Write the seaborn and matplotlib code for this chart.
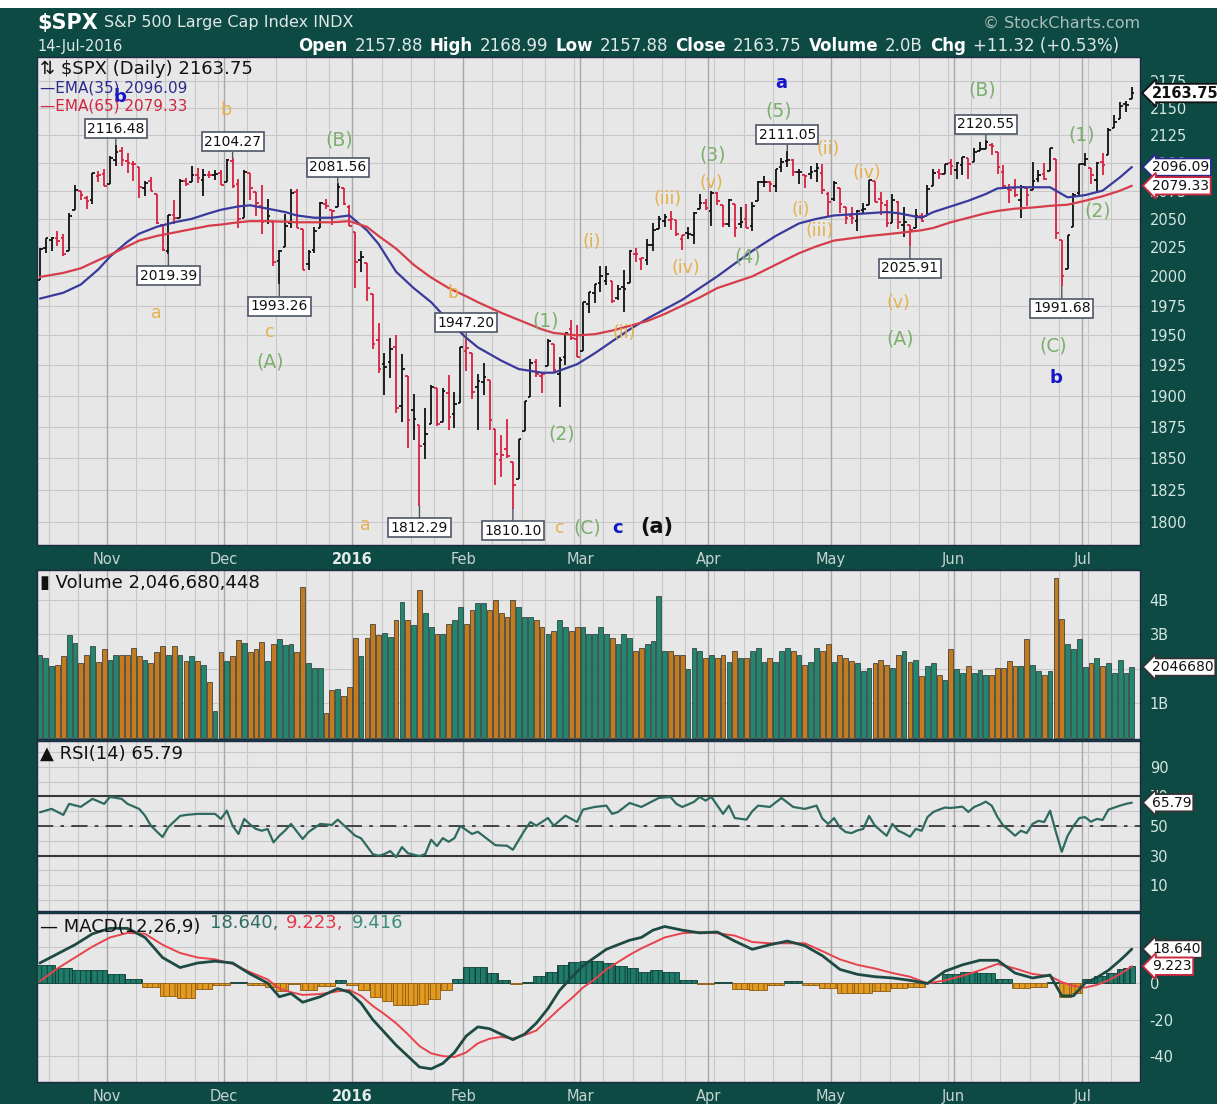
import numpy as np
import pandas as pd
import matplotlib
matplotlib.use("Agg")
import matplotlib.pyplot as plt
from matplotlib.patches import Rectangle
from matplotlib.ticker import FixedLocator, FixedFormatter, NullLocator
import seaborn as sns

# ---------------------------------------------------------------- data
holidays = ["2015-11-26", "2015-12-25", "2016-01-01", "2016-01-18",
            "2016-02-15", "2016-03-25", "2016-05-30", "2016-07-04"]
dates = pd.bdate_range("2015-10-15", "2016-07-14")
dates = dates[~dates.isin(pd.to_datetime(holidays))]

opens = [
    1996.5, 2024.4, 2031.7, 2033.1, 2033.5, 2021.9, 2058.2, 2075.1, 2068.8, 2066.5, 2088.4, 2090.0,
    2080.8, 2102.6, 2110.6, 2101.7, 2098.6, 2096.6, 2077.2, 2083.4, 2072.3, 2044.6, 2022.1, 2053.7, 2051.0, 2083.7, 2082.8, 2089.4, 2084.4, 2089.3, 2088.8, 2090.9,
    2082.9, 2101.7, 2080.7, 2051.2, 2090.4, 2073.4, 2061.2, 2047.9, 2047.3, 2013.4, 2025.6, 2046.5, 2073.8, 2040.8, 2010.3, 2023.2, 2042.2, 2063.5, 2057.8, 2060.5, 2077.3, 2060.6,
    2038.2, 2013.8, 2011.7, 1985.3, 1946.0, 1926.1, 1927.8, 1940.3, 1891.7, 1916.7, 1888.7, 1876.2, 1861.5, 1877.4, 1906.3, 1878.8, 1902.5, 1885.2, 1894.0,
    1936.9, 1935.3, 1907.1, 1911.7, 1913.1, 1873.3, 1848.5, 1857.1, 1847.0, 1833.4, 1871.4, 1898.8, 1927.6, 1916.7, 1924.4, 1942.4, 1917.6, 1931.9, 1955.0, 1947.1,
    1937.1, 1976.6, 1985.6, 1994.0, 1996.1, 1996.0, 1981.4, 1991.0, 1994.7, 2019.3, 2015.3, 2014.2, 2026.9, 2041.2, 2047.9, 2048.6, 2048.6, 2032.5, 2037.9, 2035.8, 2058.3, 2063.8,
    2056.6, 2073.2, 2062.5, 2045.6, 2063.0, 2045.5, 2050.2, 2043.7, 2065.9, 2082.9, 2083.1, 2078.8, 2096.1, 2101.5, 2102.1, 2091.5, 2089.4, 2089.8, 2092.6, 2090.9, 2071.8,
    2067.2, 2077.2, 2060.3, 2052.9, 2047.8, 2057.6, 2062.6, 2083.3, 2067.2, 2062.5, 2046.5, 2065.0, 2044.4, 2044.2, 2041.9, 2052.2, 2052.7, 2078.9, 2091.4, 2090.1, 2100.1,
    2093.9, 2097.7, 2104.1, 2100.8, 2110.2, 2112.7, 2115.7, 2109.6, 2091.8, 2076.7, 2077.6, 2066.4, 2077.2, 2075.6, 2085.2, 2089.8, 2092.8, 2103.8, 2031.5, 2006.7, 2042.7, 2073.2,
    2099.3, 2095.1, 2084.4, 2100.4, 2107.0, 2131.7, 2139.5, 2153.8, 2157.88,
]
highs = [
    2024.2, 2033.5, 2034.5, 2039.1, 2037.0, 2055.2, 2079.7, 2075.1, 2070.4, 2090.4, 2092.5, 2094.3,
    2106.2, 2116.48, 2114.6, 2108.8, 2101.9, 2096.6, 2083.7, 2086.9, 2072.3, 2044.6, 2053.2, 2066.7, 2085.3, 2086.7, 2097.1, 2095.6, 2094.1, 2093.0, 2093.3, 2093.8,
    2103.4, 2104.27, 2085.0, 2093.8, 2090.4, 2073.9, 2080.3, 2067.7, 2047.3, 2022.9, 2053.9, 2076.7, 2076.4, 2040.8, 2022.9, 2042.7, 2064.7, 2067.4, 2057.8, 2081.56, 2077.3, 2062.5,
    2038.2, 2021.9, 2011.7, 1985.3, 1960.4, 1935.7, 1947.4, 1950.3, 1934.5, 1916.7, 1901.4, 1876.2, 1889.9, 1908.9, 1906.3, 1906.7, 1917.0, 1903.0, 1940.2,
    1947.20, 1935.3, 1918.0, 1927.4, 1913.1, 1873.3, 1868.3, 1881.6, 1847.0, 1864.8, 1895.8, 1930.7, 1930.0, 1918.8, 1946.7, 1942.4, 1932.1, 1951.8, 1963.0, 1958.3,
    1978.4, 1986.5, 1993.7, 2009.1, 2008.6, 1996.0, 1992.7, 2005.1, 2022.4, 2024.6, 2015.9, 2032.0, 2046.2, 2052.4, 2053.9, 2056.6, 2048.6, 2036.0, 2042.7, 2055.9, 2072.2, 2067.9,
    2075.1, 2074.0, 2062.5, 2067.3, 2063.0, 2060.6, 2062.9, 2065.1, 2083.2, 2087.8, 2083.2, 2094.7, 2104.1, 2111.05, 2103.8, 2094.3, 2089.4, 2096.9, 2099.9, 2099.1, 2073.9,
    2083.4, 2077.2, 2060.3, 2060.2, 2057.7, 2064.2, 2084.9, 2083.3, 2074.0, 2066.8, 2071.9, 2065.7, 2060.6, 2044.2, 2058.4, 2055.6, 2079.7, 2094.7, 2094.1, 2099.1, 2103.5,
    2101.0, 2105.3, 2104.1, 2113.4, 2119.2, 2120.55, 2117.6, 2109.6, 2098.1, 2081.3, 2085.7, 2079.6, 2077.2, 2100.7, 2093.7, 2099.7, 2113.3, 2103.8, 2031.5, 2036.1, 2073.1, 2098.9,
    2108.7, 2095.1, 2100.7, 2109.1, 2131.7, 2143.2, 2155.4, 2156.5, 2168.99,
]
lows = [
    1996.5, 2020.5, 2022.3, 2026.6, 2017.2, 2021.9, 2058.2, 2066.5, 2058.8, 2063.1, 2082.6, 2079.3,
    2080.8, 2097.5, 2097.0, 2090.4, 2083.7, 2068.2, 2069.9, 2074.9, 2045.7, 2022.0, 2019.39, 2045.9, 2051.0, 2078.8, 2082.8, 2081.4, 2070.3, 2086.3, 2084.1, 2080.4,
    2082.9, 2077.1, 2042.4, 2051.2, 2066.8, 2052.3, 2036.5, 2045.7, 2008.8, 1993.26, 2025.6, 2042.4, 2041.7, 2005.3, 2005.9, 2020.5, 2042.2, 2058.7, 2044.2, 2060.5, 2062.0, 2043.6,
    1989.7, 2004.2, 1979.1, 1938.8, 1918.5, 1901.1, 1914.4, 1886.3, 1878.9, 1857.8, 1864.6, 1812.29, 1849.0, 1877.4, 1876.0, 1878.8, 1872.7, 1873.7, 1894.0,
    1920.0, 1897.3, 1872.7, 1900.5, 1872.7, 1828.5, 1834.9, 1850.3, 1810.10, 1833.4, 1871.4, 1898.8, 1915.1, 1902.2, 1924.4, 1919.4, 1891.0, 1925.4, 1945.8, 1931.8,
    1937.1, 1968.9, 1977.4, 1986.8, 1992.4, 1977.4, 1979.8, 1969.3, 1994.7, 2012.2, 2005.2, 2010.0, 2022.2, 2041.2, 2043.1, 2040.6, 2034.9, 2022.5, 2032.0, 2028.3, 2058.3, 2057.5,
    2044.0, 2062.6, 2042.6, 2043.1, 2033.8, 2041.7, 2041.9, 2039.7, 2065.9, 2078.1, 2073.7, 2073.7, 2091.7, 2096.3, 2088.5, 2081.2, 2077.5, 2085.8, 2082.3, 2071.6, 2052.3,
    2066.1, 2054.9, 2045.6, 2045.8, 2039.5, 2054.3, 2062.6, 2064.5, 2053.1, 2043.1, 2046.5, 2040.8, 2034.5, 2025.91, 2041.9, 2047.3, 2052.7, 2078.9, 2085.3, 2090.1, 2088.7,
    2085.1, 2088.6, 2085.4, 2100.8, 2110.2, 2112.7, 2107.0, 2090.0, 2078.5, 2064.1, 2069.7, 2050.4, 2061.0, 2075.6, 2083.0, 2084.4, 2092.8, 2032.6, 1991.68, 2006.7, 2042.7, 2070.0,
    2097.5, 2080.9, 2074.0, 2089.4, 2107.0, 2131.7, 2139.5, 2146.2, 2157.88,
]
closes = [
    2023.86, 2033.11, 2033.66, 2030.77, 2018.94, 2052.51, 2075.15, 2071.18, 2065.89, 2090.35, 2089.41, 2079.36,
    2104.05, 2109.79, 2102.31, 2099.93, 2099.20, 2078.58, 2081.72, 2075.00, 2045.97, 2023.04, 2053.19, 2050.44, 2083.58, 2081.24, 2089.17, 2086.59, 2089.14, 2088.87, 2090.11, 2080.41,
    2102.63, 2079.51, 2049.62, 2091.69, 2077.07, 2063.59, 2047.62, 2052.23, 2012.37, 2021.94, 2043.41, 2073.07, 2041.89, 2005.55, 2021.15, 2038.97, 2064.29, 2060.99, 2056.50, 2078.36, 2063.36, 2043.94,
    2012.66, 2016.71, 1990.26, 1943.09, 1922.03, 1923.67, 1938.68, 1890.28, 1921.84, 1880.33, 1881.33, 1859.33, 1868.99, 1906.90, 1877.08, 1903.63, 1882.95, 1893.36, 1940.24,
    1939.38, 1903.03, 1912.53, 1915.45, 1880.05, 1853.44, 1852.21, 1851.86, 1829.08, 1864.78, 1895.58, 1926.82, 1917.83, 1917.78, 1945.50, 1921.27, 1929.80, 1951.70, 1948.05, 1932.23,
    1978.35, 1986.45, 1993.40, 1999.99, 2001.76, 1979.26, 1989.26, 1989.57, 2022.19, 2019.64, 2015.93, 2027.22, 2040.59, 2049.58, 2051.60, 2049.80, 2036.71, 2035.94, 2037.05, 2055.01, 2063.95, 2059.74,
    2072.78, 2066.13, 2045.17, 2066.66, 2041.91, 2047.60, 2041.99, 2061.72, 2082.42, 2082.78, 2080.73, 2094.34, 2100.80, 2102.40, 2091.48, 2091.58, 2087.79, 2091.70, 2095.15, 2075.81, 2065.30,
    2081.43, 2063.37, 2051.12, 2050.63, 2057.14, 2058.69, 2084.39, 2064.46, 2064.11, 2046.61, 2066.66, 2047.21, 2047.63, 2040.04, 2052.32, 2048.04, 2076.06, 2090.54, 2090.10, 2099.06, 2096.95,
    2099.33, 2105.26, 2099.13, 2109.41, 2112.13, 2119.12, 2115.48, 2096.07, 2079.06, 2075.32, 2071.50, 2077.99, 2071.22, 2083.25, 2088.90, 2085.45, 2113.32, 2037.41, 2000.54, 2036.09, 2070.77, 2098.86,
    2102.95, 2088.55, 2099.73, 2097.90, 2129.90, 2137.16, 2152.14, 2152.43, 2163.75,
]
# daily volume, billions of shares
volume_b = [
    2.41, 2.32, 2.07, 2.12, 2.36, 2.97, 2.73, 2.17, 2.41, 2.65, 2.20, 2.57,
    2.26, 2.41, 2.41, 2.41, 2.61, 2.36, 2.26, 2.15, 2.47, 2.66, 2.41, 2.66, 2.41, 2.22, 2.36, 2.22, 2.10, 1.61, 0.77, 2.47,
    2.22, 2.36, 2.82, 2.73, 2.47, 2.56, 2.77, 2.22, 2.71, 2.87, 2.68, 2.71, 2.47, 4.37, 2.15, 2.02, 2.02, 0.72, 1.38, 1.42, 1.21, 1.47,
    2.88, 2.36, 2.88, 3.28, 2.97, 3.02, 2.92, 3.42, 3.92, 3.42, 3.26, 4.28, 3.60, 3.20, 3.00, 3.00, 3.30, 3.40, 3.80,
    3.30, 3.70, 3.90, 3.90, 3.70, 4.00, 3.60, 3.50, 4.00, 3.80, 3.50, 3.50, 3.40, 3.20, 3.00, 3.10, 3.40, 3.20, 3.10, 3.20,
    3.20, 3.00, 3.00, 3.20, 3.00, 2.90, 2.70, 3.00, 2.90, 2.50, 2.60, 2.70, 2.80, 4.10, 2.50, 2.50, 2.40, 2.40, 2.00, 2.60, 2.50, 2.30,
    2.40, 2.30, 2.40, 2.20, 2.50, 2.30, 2.30, 2.50, 2.60, 2.20, 2.30, 2.20, 2.50, 2.60, 2.50, 2.40, 2.10, 2.20, 2.60, 2.50, 2.70,
    2.20, 2.40, 2.30, 2.22, 2.15, 1.93, 2.02, 2.17, 2.26, 2.12, 2.02, 2.41, 2.51, 2.20, 2.26, 1.78, 2.09, 2.17, 1.81, 1.67, 2.57,
    1.98, 1.86, 2.07, 1.86, 1.96, 1.81, 1.81, 2.03, 2.03, 2.22, 2.07, 2.09, 2.87, 2.12, 1.93, 1.81, 1.93, 4.62, 3.43, 2.70, 2.57, 2.87,
    2.04, 2.17, 2.32, 2.07, 2.17, 1.86, 2.26, 1.86, 2.0467,
]

# moving averages (trading-day index, value)
ema_day = [0, 4, 7, 10, 12, 15, 17, 20, 23, 26, 29, 31, 34, 36, 39, 42, 44, 47, 50, 53,
           56, 58, 61, 64, 67, 70, 73, 75, 79, 82, 86, 88, 92, 95, 98, 101, 104, 107, 110, 113,
           116, 119, 122, 126, 130, 133, 136, 139, 142, 145, 147, 151, 153, 156, 159, 162, 164, 167, 170, 173,
           176, 179, 182, 185, 187]
ema35 = [1981, 1986, 1993, 2006, 2017, 2030, 2037, 2043, 2047, 2050, 2055, 2058, 2061, 2062, 2059, 2056, 2053, 2051, 2051, 2053,
         2040, 2028, 2004, 1990, 1978, 1962, 1948, 1940, 1929, 1922, 1919, 1919, 1926, 1935, 1945, 1955, 1964, 1972, 1980, 1990,
         2000, 2011, 2022, 2035, 2046, 2050, 2053, 2054, 2055, 2056, 2055, 2051, 2056, 2061, 2066, 2072, 2077, 2078, 2078, 2078,
         2069, 2071, 2075, 2087, 2096.09]
ema65 = [1999.5, 2003, 2007, 2014, 2018.5, 2026, 2031, 2035, 2038, 2041, 2044, 2045, 2047, 2048, 2048, 2047.5, 2047, 2047, 2047, 2048,
         2043, 2035, 2024, 2010, 1999, 1990, 1983, 1978, 1969, 1963, 1955, 1952, 1950, 1951, 1954, 1958, 1962, 1968, 1975, 1982,
         1990, 1995, 2000, 2010, 2020, 2026, 2031, 2033, 2035, 2036.5, 2037.6, 2040, 2042, 2047, 2051, 2055, 2057, 2059, 2060, 2061.5,
         2062.5, 2066, 2070, 2075, 2079.33]

# RSI(14)
rsi_day = [0, 2, 4, 5, 7, 9, 11, 12, 14, 15,
           17, 18, 19, 21, 22, 24, 25, 27, 30, 31,
           32, 33, 34, 35, 36, 37, 38, 39, 40, 41,
           42, 43, 45, 46, 48, 50, 51, 52, 53, 54,
           55, 57, 58, 59, 60, 61, 62, 63, 65, 66,
           67, 68, 69, 70, 71, 72, 74, 75, 78, 80,
           81, 83, 84, 85, 87, 88, 90, 92, 93, 95,
           97, 98, 99, 101, 103, 106, 108, 109, 110, 112,
           113, 114, 115, 117, 118, 119, 121, 122, 123, 125,
           127, 129, 131, 133, 134, 135, 136, 137, 138, 139,
           140, 141, 142, 143, 145, 146, 147, 148, 149, 150,
           151, 152, 153, 154, 155, 156, 158, 159, 160, 161,
           162, 163, 164, 165, 166, 167, 168, 169, 170, 171,
           172, 173, 174, 175, 176, 177, 178, 179, 180, 181,
           182, 183, 184, 185, 186, 187]
rsi_val = [59.3, 61.6, 57.5, 65.0, 63.0, 68.4, 65.0, 69.7, 68.4, 65.0,
           61.6, 57.0, 50.2, 42.5, 49.3, 56.8, 57.5, 58.2, 58.2, 54.8,
           60.4, 50.2, 44.6, 54.8, 51.0, 48.0, 46.8, 48.0, 38.9, 43.4,
           47.0, 51.4, 41.2, 45.9, 51.4, 50.7, 54.3, 50.7, 47.0, 43.4,
           41.7, 31.0, 29.8, 31.0, 33.0, 28.9, 35.7, 31.6, 29.6, 31.0,
           40.7, 36.4, 41.8, 39.3, 41.8, 50.0, 44.6, 46.1, 37.0, 36.6,
           33.9, 47.0, 52.7, 50.2, 55.4, 50.2, 57.0, 52.7, 61.1, 62.9,
           63.8, 58.2, 59.5, 65.6, 62.9, 69.0, 69.7, 65.0, 62.9, 66.3,
           69.7, 67.2, 69.7, 58.2, 63.8, 55.4, 54.3, 60.0, 63.8, 62.9,
           69.0, 62.9, 61.6, 63.8, 55.0, 51.4, 55.4, 49.0, 45.9, 45.2,
           47.0, 48.0, 56.8, 50.2, 43.4, 51.4, 46.8, 45.0, 42.7, 48.0,
           46.8, 56.0, 59.5, 61.1, 62.5, 62.2, 63.1, 59.5, 62.9, 64.5,
           66.5, 63.8, 56.0, 50.2, 47.0, 43.4, 46.8, 45.2, 51.4, 53.5,
           52.7, 60.4, 45.9, 32.5, 43.4, 50.0, 55.4, 56.0, 52.9, 54.8,
           54.1, 61.1, 62.5, 63.8, 65.0, 65.79]

# MACD(12,26,9): MACD line and signal line
macd_day = [0, 3, 6, 9, 12, 15, 18, 21, 24, 27,
            30, 33, 36, 39, 41, 43, 45, 48, 51, 53,
            55, 57, 59, 61, 63, 65, 67, 69, 71, 73,
            75, 77, 79, 81, 83, 85, 87, 89, 91, 93,
            95, 97, 99, 101, 103, 105, 107, 110, 113, 116,
            119, 122, 125, 128, 131, 134, 137, 140, 143, 146,
            149, 152, 155, 158, 161, 164, 167, 170, 173, 175,
            177, 179, 181, 183, 185, 186, 187]
macd_line = [11, 16, 21, 27, 30, 30, 25, 14, 8.5, 11,
             12, 11, 5, 0, -7.5, -5.7, -10.5, -7.5, -3, -5,
             -11, -20, -27, -34, -40, -46, -47, -44, -38, -29,
             -24, -25, -28, -31, -28, -22, -14, -4, 3, 9.5,
             14, 18.5, 21, 23.5, 25, 29, 31, 29, 27.5, 28,
             23, 18.5, 21, 23, 20.5, 15, 7.5, 4.8, 3.5, 2.8,
             1.5, -0.2, 6.5, 10, 12.5, 12.5, 5.5, 2.8, 4.4, -7,
             -7, 0, 3, 7, 12.5, 15.5, 18.640]
macd_signal = [1, 8, 14, 20, 25, 27.5, 27, 21, 16.5, 14,
               13, 10.5, 6, 2, -3, -5, -6.5, -6, -4.5, -3.8,
               -7, -12.5, -17, -22, -28, -34.5, -38.5, -40, -40.5, -38,
               -33, -30.5, -29.5, -30.4, -28.5, -26, -20, -14, -8.5, -2.5,
               2, 7.5, 11.5, 15.5, 19, 22, 25, 27.3, 27.9, 27.3,
               26, 22.5, 21.8, 21.8, 21.8, 17.5, 13, 10, 8, 5.5,
               3.5, -0.2, 1.5, 4, 7, 10.5, 8, 5, 3.8, 0.5,
               -1.5, -2.5, -1, 1.5, 5, 7, 9.223]

peak_labels = [2116.48, 2104.27, 2081.56, 1947.20, 2111.05, 2120.55]
trough_labels = [2019.39, 1993.26, 1812.29, 1810.10, 2025.91, 1991.68]

# Elliott wave counts: text, trading-day index, price, degree
wave_text = ["b", "b", "a", "c", "(A)", "(B)", "b", "a", "c", "(C)", "c", "(a)",
             "(1)", "(2)", "(i)", "(ii)", "(iii)", "(iv)", "(v)", "(3)", "(4)", "(5)", "a",
             "(i)", "(ii)", "(iii)", "(iv)", "(v)", "(A)", "(B)", "(C)", "b", "(1)", "(2)"]
wave_day = [13.7, 31.8, 19.9, 39.4, 39.5, 51.2, 70.7, 55.8, 89.0, 93.7, 99.0, 105.7,
            86.6, 89.4, 94.5, 100.0, 107.5, 110.6, 115.0, 115.2, 121.2, 126.5, 127.0,
            130.3, 135.0, 133.6, 141.6, 147.0, 147.4, 161.3, 173.5, 174.0, 178.4, 181.2]
wave_price = [2160, 2148, 1969, 1953, 1928, 2121, 1986, 1797.7, 1795.5, 1795.5, 1795.5, 1796,
              1962, 1869, 2030, 1952, 2068, 2007.5, 2082, 2107, 2017, 2147, 2173,
              2058, 2112, 2039, 2091, 1977, 1947, 2167, 1941, 1915, 2125, 2057]
wave_degree = ["P", "m", "m", "m", "I", "I", "m", "m", "m", "I", "P", "N",
               "I", "I", "m", "m", "m", "m", "m", "I", "I", "I", "P",
               "m", "m", "m", "m", "m", "I", "I", "I", "P", "I", "I"]

header_title = "$SPX"
header_name = "S&P 500 Large Cap Index INDX"
header_date = "14-Jul-2016"
header_stats = [("Open", "2157.88"), ("High", "2168.99"), ("Low", "2157.88"),
                ("Close", "2163.75"), ("Volume", "2.0B"), ("Chg", "+11.32 (+0.53%)")]

price_ticks = list(range(1800, 2176, 25))
volume_ticks = [1, 2, 3, 4]
volume_tick_labels = ["1B", "", "3B", "4B"]
rsi_ticks = [10, 30, 50, 70, 90]
macd_ticks = [-40, -20, 0, 20]

# ---------------------------------------------------------------- style
W, H, DPI = 1217, 1104, 100
BG = "#0d4a43"
PANEL = "#e7e7e7"
GRID = "#c8c8c8"
GRID_M = "#a8a8a8"
TICK = "#d4e6e0"
UP_BAR, DN_BAR = "#111111", "#d8203f"
UP_VOL, DN_VOL = "#23866f", "#c47a1f"
WAVE_COL = {"m": "#e4b14c", "I": "#7caf6f", "P": "#1414c8", "N": "#111111"}
LEGEND_SIZE = 13

sns.set_theme(style="white")
plt.rcParams["font.family"] = ["DejaVu Sans"]
plt.rcParams["hatch.linewidth"] = 0.6

opens, highs, lows, closes = map(np.asarray, (opens, highs, lows, closes))
volume_b = np.asarray(volume_b)
days = np.arange(len(dates))
up = np.r_[True, closes[1:] >= closes[:-1]]

wd = dates.weekday
week_starts = [i for i in range(1, len(dates)) if wd[i] <= wd[i - 1]]
month_starts = [i for i in range(1, len(dates)) if dates[i].month != dates[i - 1].month]
month_names = ["2016" if dates[i].month == 1 else dates[i].strftime("%b") for i in month_starts]

fig = plt.figure(figsize=(W / DPI, H / DPI), dpi=DPI, facecolor=BG)
fig.patches.append(Rectangle((0, 1 - 8 / H), 1, 8 / H, transform=fig.transFigure,
                             facecolor="white", edgecolor="none"))


def px_rect(x0, y0, x1, y1):
    return [x0 / W, 1 - y1 / H, (x1 - x0) / W, (y1 - y0) / H]


def ftext(x, y, s, **kw):
    return fig.text(x / W, 1 - y / H, s, **kw)


ax_p = fig.add_axes(px_rect(37, 57, 1140, 545))
ax_v = fig.add_axes(px_rect(37, 570, 1140, 739))
ax_r = fig.add_axes(px_rect(37, 741, 1140, 911))
ax_m = fig.add_axes(px_rect(37, 913, 1140, 1082))


def style_panel(ax, month_labels):
    ax.set_facecolor(PANEL)
    for s in ax.spines.values():
        s.set_color("#1c2a42")
        s.set_linewidth(1.0)
    ax.set_xlim(-0.5, 188.4)
    for w in week_starts:
        ax.axvline(w - 0.5, color=GRID, lw=0.8, zorder=0.5)
    for m in month_starts:
        ax.axvline(m - 0.5, color=GRID_M, lw=1.0, zorder=0.6)
    ax.yaxis.tick_right()
    ax.tick_params(axis="y", length=0, labelsize=10.5, labelcolor=TICK, pad=7)
    ax.grid(axis="y", color=GRID, lw=0.8, zorder=0.5)
    ax.grid(axis="x", visible=False)
    ax.set_axisbelow(True)
    ax.set_xticks([m - 0.5 for m in month_starts])
    if month_labels:
        ax.set_xticklabels(month_names)
        ax.tick_params(axis="x", length=0, labelsize=10.5, labelcolor="#c6d2d0", pad=5)
        for lab in ax.get_xticklabels():
            if lab.get_text() == "2016":
                lab.set_fontweight("bold")
                lab.set_color("#e4ecea")
    else:
        ax.set_xticklabels([])
        ax.tick_params(axis="x", length=0)


def value_tag(ax, y, text, ec, bold=False, size=10):
    ax.annotate(text, xy=(1, y), xycoords=("axes fraction", "data"),
                xytext=(12, 0), textcoords="offset pixels", ha="left", va="center",
                fontsize=size, fontweight="bold" if bold else "normal", color="#111111",
                bbox=dict(boxstyle="larrow,pad=0.12", fc="white", ec=ec, lw=1.3),
                annotation_clip=False, zorder=20)


# ---------------------------------------------------------------- price panel
style_panel(ax_p, True)
ax_p.set_yscale("log")
ax_p.set_ylim(1782.2, 2197.5)
ax_p.yaxis.set_major_locator(FixedLocator(price_ticks))
ax_p.yaxis.set_major_formatter(FixedFormatter([str(t) for t in price_ticks]))
ax_p.yaxis.set_minor_locator(NullLocator())

bar_col = np.where(up, UP_BAR, DN_BAR)
ax_p.vlines(days, lows, highs, colors=bar_col, lw=1.3, zorder=3)
ax_p.hlines(opens, days - 0.45, days, colors=bar_col, lw=1.3, zorder=3)
ax_p.hlines(closes, days, days + 0.45, colors=bar_col, lw=1.3, zorder=3)

sns.lineplot(x=ema_day, y=ema35, ax=ax_p, color="#3a3a9c", lw=1.6, zorder=4)
sns.lineplot(x=ema_day, y=ema65, ax=ax_p, color="#d63d4a", lw=1.6, zorder=4)

for v in peak_labels:
    d = int(np.argmin(np.abs(highs - v)))
    ax_p.annotate(f"{v:.2f}", xy=(d, v), xytext=(0, 16), textcoords="offset pixels",
                  ha="center", va="center", fontsize=10, color="#111111",
                  bbox=dict(boxstyle="square,pad=0.18", fc="white", ec="#4f5566", lw=1.2),
                  arrowprops=dict(arrowstyle="-", color="#4f5566", lw=1.0, shrinkA=0, shrinkB=0),
                  zorder=8)
for v in trough_labels:
    d = int(np.argmin(np.abs(lows - v)))
    ax_p.annotate(f"{v:.2f}", xy=(d, v), xytext=(0, -22), textcoords="offset pixels",
                  ha="center", va="center", fontsize=10, color="#111111",
                  bbox=dict(boxstyle="square,pad=0.18", fc="white", ec="#4f5566", lw=1.2),
                  arrowprops=dict(arrowstyle="-", color="#4f5566", lw=1.0, shrinkA=0, shrinkB=0),
                  zorder=8)

for t, d, p, g in zip(wave_text, wave_day, wave_price, wave_degree):
    if g == "P":
        kw = dict(fontsize=13, fontweight="bold")
    elif g == "N":
        kw = dict(fontsize=15, fontweight="bold")
    elif g == "I":
        kw = dict(fontsize=13.5)
    else:
        kw = dict(fontsize=12.5)
    ax_p.text(d, p, t, color=WAVE_COL[g], ha="center", va="center", zorder=7, **kw)

ax_p.text(0.003, 0.975, "⇅ $SPX (Daily) 2163.75", transform=ax_p.transAxes,
          fontsize=LEGEND_SIZE, color="#111111", va="center", ha="left", zorder=9)
ax_p.text(0.003, 0.937, "—EMA(35) 2096.09", transform=ax_p.transAxes,
          fontsize=11, color="#2a2a8c", va="center", ha="left", zorder=9)
ax_p.text(0.003, 0.900, "—EMA(65) 2079.33", transform=ax_p.transAxes,
          fontsize=11, color="#d0253f", va="center", ha="left", zorder=9)

value_tag(ax_p, closes[-1], f"{closes[-1]:.2f}", "#111111", bold=True, size=10.5)
value_tag(ax_p, ema35[-1], f"{ema35[-1]:.2f}", "#2a2a8c")
value_tag(ax_p, ema65[-1], f"{ema65[-1]:.2f}", "#d0253f")

# ---------------------------------------------------------------- volume panel
style_panel(ax_v, False)
ax_v.bar(days, volume_b, width=0.82, color=np.where(up, UP_VOL, DN_VOL),
         edgecolor="#253030", linewidth=0.5, zorder=3)
ax_v.set_ylim(-0.04, 4.86)
ax_v.set_yticks(volume_ticks)
ax_v.set_yticklabels(volume_tick_labels)
ax_v.text(0.003, 0.925, "▮ Volume 2,046,680,448", transform=ax_v.transAxes,
          fontsize=LEGEND_SIZE, color="#111111", va="center", ha="left", zorder=9)
value_tag(ax_v, volume_b[-1], "2046680", "#333333", size=10)

# ---------------------------------------------------------------- RSI panel
style_panel(ax_r, False)
ax_r.set_ylim(-7.6, 107.6)
ax_r.set_yticks(list(range(0, 101, 10)))
ax_r.set_yticklabels([str(t) if t in rsi_ticks else "" for t in range(0, 101, 10)])
ax_r.axhline(70, color="#383838", lw=1.5, zorder=2)
ax_r.axhline(30, color="#383838", lw=1.5, zorder=2)
ax_r.axhline(50, color="#383838", lw=1.3, ls=(0, (9, 4, 2, 4)), zorder=2)
sns.lineplot(x=rsi_day, y=rsi_val, ax=ax_r, color="#2f6a61", lw=1.6, zorder=4)
ax_r.text(0.003, 0.925, "▲ RSI(14) 65.79", transform=ax_r.transAxes,
          fontsize=LEGEND_SIZE, color="#111111", va="center", ha="left", zorder=9)
value_tag(ax_r, rsi_val[-1], f"{rsi_val[-1]:.2f}", "#333333", size=10)

# ---------------------------------------------------------------- MACD panel
style_panel(ax_m, True)
ax_m.set_ylim(-54.2, 38.4)
ax_m.set_yticks(macd_ticks)
ax_m.set_yticklabels([str(t) for t in macd_ticks])
md = np.asarray(macd_day)
hist = np.asarray(macd_line) - np.asarray(macd_signal)
widths = np.r_[np.diff(md), 1]
pos = hist >= 0
ax_m.bar(md[pos] - 0.5, hist[pos], width=widths[pos], align="edge",
         color="#1f7a69", edgecolor="#0f3c35", linewidth=0.6, hatch="|||", zorder=3)
ax_m.bar(md[~pos] - 0.5, hist[~pos], width=widths[~pos], align="edge",
         color="#e39a21", edgecolor="#8a5a12", linewidth=0.6, hatch="|||", zorder=3)
sns.lineplot(x=macd_day, y=macd_signal, ax=ax_m, color="#e8434c", lw=1.4, zorder=4)
sns.lineplot(x=macd_day, y=macd_line, ax=ax_m, color="#1e4a44", lw=2.0, zorder=5)
for ax in (ax_p, ax_v, ax_r, ax_m):
    ax.set_xlabel("")
    ax.set_ylabel("")

macd_leg = ax_m.text(0.003, 0.92, "— MACD(12,26,9)", transform=ax_m.transAxes,
                     fontsize=LEGEND_SIZE, color="#111111", va="center", ha="left", zorder=9)
value_tag(ax_m, macd_line[-1], f"{macd_line[-1]:.3f}", "#333333", size=10)
value_tag(ax_m, macd_signal[-1], f"{macd_signal[-1]:.3f}", "#d0253f", size=10)

# ---------------------------------------------------------------- header
renderer = fig.canvas.get_renderer()


def chain(x0, y, pieces, gap=5):
    x = x0
    for s, bold, col, size in pieces:
        t = ftext(x, y, s, fontsize=size, fontweight="bold" if bold else "normal",
                  color=col, va="center", ha="left")
        x += t.get_window_extent(renderer).width + gap
    return x


chain(37, 23, [(header_title, True, "white", 15), (header_name, False, "#dfe8e6", 11.5)], gap=6)
ftext(37, 46, header_date, fontsize=10.5, color="#dfe8e6", va="center", ha="left")
pieces = []
for k, v in header_stats:
    pieces += [(k, True, "white", 12), (v, False, "#dfe8e6", 12)]
chain(298, 46, pieces, gap=7)
ftext(1140, 23, "© StockCharts.com", fontsize=11.5, color="#a9bdb8", va="center", ha="right")

# MACD legend values in their own colours
bb = macd_leg.get_window_extent(renderer)
chain(bb.x1 + 9, 923, [("18.640,", False, "#2e6e64", LEGEND_SIZE),
                       ("9.223,", False, "#e23a48", LEGEND_SIZE),
                       ("9.416", False, "#3d8c7c", LEGEND_SIZE)], gap=8)

fig.savefig("out.png", dpi=DPI, facecolor=BG)
